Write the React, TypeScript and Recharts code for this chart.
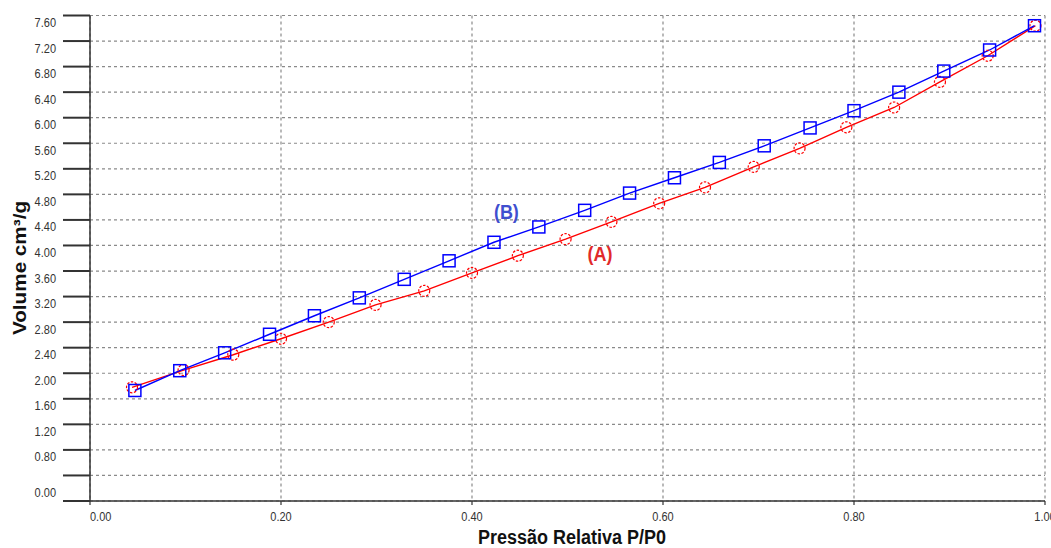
import React from 'react';
import {
  LineChart,
  Line,
  XAxis,
  YAxis,
  CartesianGrid,
  ReferenceDot,
} from 'recharts';

// relative pressure P/P0 and adsorbed volume
const pressureB = [0.047, 0.094, 0.141, 0.188, 0.235, 0.282, 0.329, 0.376, 0.423, 0.47, 0.518, 0.565, 0.612, 0.659, 0.706, 0.754, 0.8, 0.847, 0.894, 0.942, 0.989];
const volumeB = [1.73, 2.04, 2.32, 2.61, 2.9, 3.18, 3.47, 3.76, 4.05, 4.29, 4.55, 4.82, 5.06, 5.3, 5.56, 5.84, 6.11, 6.4, 6.73, 7.06, 7.44];

const pressureA = [0.044, 0.098, 0.15, 0.2, 0.25, 0.299, 0.35, 0.4, 0.448, 0.498, 0.546, 0.596, 0.644, 0.695, 0.743, 0.792, 0.842, 0.89, 0.94, 0.99];
const volumeA = [1.78, 2.05, 2.29, 2.54, 2.8, 3.07, 3.29, 3.57, 3.84, 4.1, 4.37, 4.66, 4.91, 5.23, 5.52, 5.85, 6.16, 6.56, 6.97, 7.44];

const xTicks = [0, 0.2, 0.4, 0.6, 0.8, 1.0];
const yTicks = [0, 0.4, 0.8, 1.2, 1.6, 2.0, 2.4, 2.8, 3.2, 3.6, 4.0, 4.4, 4.8, 5.2, 5.6, 6.0, 6.4, 6.8, 7.2, 7.6];

const labelB = { text: '(B)', x: 0.436, y: 4.53 };
const labelA = { text: '(A)', x: 0.534, y: 3.88 };

const seriesA = pressureA.map((p, i) => ({ p, v: volumeA[i] }));
const seriesB = pressureB.map((p, i) => ({ p, v: volumeB[i] }));

const FONT = '"Liberation Sans", Arial, sans-serif';
const STRETCH = 1.15; // the source image is a bit taller than wide

const XTick = (props: any) => {
  const { x, y, payload } = props;
  const v = payload.value as number;
  return (
    <g transform={`translate(${x},${y}) scale(1,${STRETCH})`}>
      <text
        x={0}
        y={0}
        dy="0.71em"
        textAnchor={v === 0 ? 'start' : 'middle'}
        fontSize={11}
        fontFamily={FONT}
        fill="#333"
      >
        {v.toFixed(2)}
      </text>
    </g>
  );
};

const YTick = (props: any) => {
  const { x, y, payload } = props;
  const v = payload.value as number;
  if (Math.abs(v - 0.4) < 1e-6) return <g />;
  const off = v === 0 ? -8.5 : 7;
  return (
    <g transform={`translate(${x},${y + off}) scale(1,${STRETCH})`}>
      <text x={0} y={0} dy="0.355em" textAnchor="end" fontSize={11} fontFamily={FONT} fill="#333">
        {v.toFixed(2)}
      </text>
    </g>
  );
};

const squareDot = (props: any) => {
  const { cx, cy, index } = props;
  return (
    <rect key={`b-${index}`} x={cx - 6} y={cy - 6} width={12} height={12} fill="none" stroke="#0000ff" strokeWidth={1.5} />
  );
};

const circleDot = (props: any) => {
  const { cx, cy, index } = props;
  return (
    <circle key={`a-${index}`} cx={cx} cy={cy} r={5.5} fill="none" stroke="#ff0000" strokeWidth={1.2} strokeDasharray="2.5 1.5" />
  );
};

const tag = (text: string, color: string) => (props: any) => {
  const vb = props.viewBox || {};
  const cx = (vb.x ?? 0) + (vb.width ?? 0) / 2;
  const cy = (vb.y ?? 0) + (vb.height ?? 0) / 2;
  return (
    <g transform={`translate(${cx},${cy}) scale(1,${STRETCH})`}>
      <text x={0} y={0} dy="0.36em" textAnchor="middle" fontSize={18} fontWeight="bold" fontFamily={FONT} fill={color}>
        {text}
      </text>
    </g>
  );
};

export default function App() {
  return (
    <div style={{ width: 1051, height: 548, background: '#fff', position: 'relative' }}>
      <style>{'body{margin:0;}'}</style>
      <LineChart width={1051} height={548} margin={{ top: 15.5, right: 6, bottom: 0, left: 0 }}>
        <CartesianGrid stroke="#8a8a8a" strokeDasharray="3 3" strokeWidth={1.2} />
        <XAxis
          dataKey="p"
          type="number"
          domain={[0, 1]}
          ticks={xTicks}
          height={47}
          tickSize={4}
          tickMargin={7}
          axisLine={{ stroke: '#333', strokeWidth: 1.5 }}
          tickLine={{ stroke: '#333', strokeWidth: 1.2 }}
          tick={<XTick />}
          allowDuplicatedCategory={false}
        />
        <YAxis
          type="number"
          domain={[0, 7.6]}
          ticks={yTicks}
          width={90}
          tickSize={27}
          tickMargin={7}
          axisLine={{ stroke: '#333', strokeWidth: 1.5 }}
          tickLine={{ stroke: '#333', strokeWidth: 2 }}
          tick={<YTick />}
          interval={0}
        />
        <Line
          data={seriesA}
          dataKey="v"
          type="linear"
          stroke="#ff0000"
          strokeWidth={1.4}
          dot={circleDot}
          activeDot={false}
          isAnimationActive={false}
        />
        <Line
          data={seriesB}
          dataKey="v"
          type="linear"
          stroke="#0000ff"
          strokeWidth={1.4}
          dot={squareDot}
          activeDot={false}
          isAnimationActive={false}
        />
        <ReferenceDot x={labelB.x} y={labelB.y} r={0} fill="none" stroke="none" label={tag(labelB.text, '#3f4fcf')} />
        <ReferenceDot x={labelA.x} y={labelA.y} r={0} fill="none" stroke="none" label={tag(labelA.text, '#e12a2a')} />
      </LineChart>
      <svg width={1051} height={548} style={{ position: 'absolute', left: 0, top: 0, pointerEvents: 'none' }}>
        <g transform={`translate(20,268) scale(1,${STRETCH}) rotate(-90)`}>
          <text x={0} y={0} dy="0.36em" textAnchor="middle" fontSize={18} fontWeight="bold" fontFamily={FONT} fill="#111">
            Volume cm³/g
          </text>
        </g>
        <g transform={`translate(572,544) scale(1,${STRETCH})`}>
          <text x={0} y={0} textAnchor="middle" fontSize={18} fontWeight="bold" fontFamily={FONT} fill="#111">
            Pressão Relativa P/P0
          </text>
        </g>
      </svg>
    </div>
  );
}
